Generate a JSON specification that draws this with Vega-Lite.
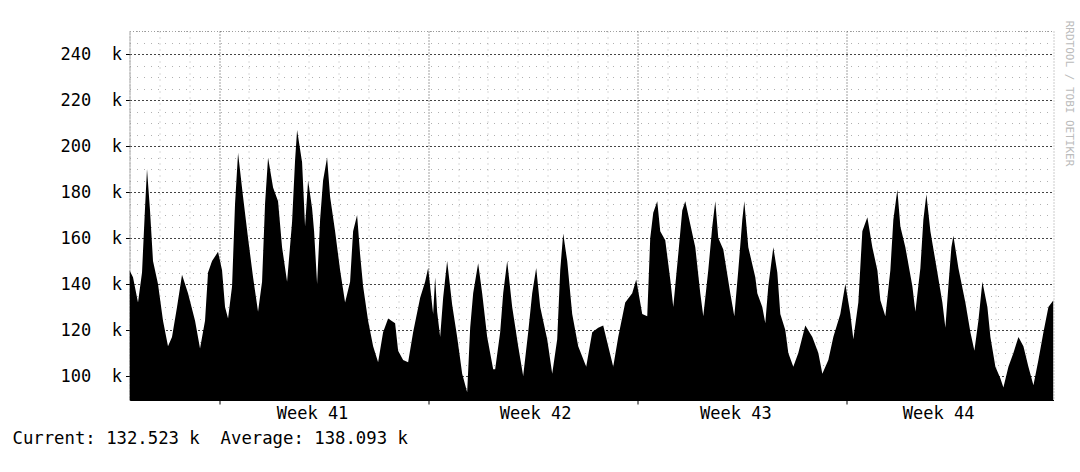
{
  "$schema": "https://vega.github.io/schema/vega-lite/v6.json",
  "width": 924,
  "height": 369,
  "autosize": {"type": "none"},
  "padding": {"left": 129.5, "top": 31, "right": 26.5, "bottom": 72},
  "background": "white",
  "config": {"view": {"stroke": "#999", "strokeDash": [1, 2]}, "font": "DejaVu Sans Mono"},
  "data": {"values": [
    {"day": 0, "v": 146}, {"day": 0.117, "v": 143}, {"day": 0.285, "v": 132}, {"day": 0.419, "v": 145},
    {"day": 0.519, "v": 173}, {"day": 0.586, "v": 190}, {"day": 0.687, "v": 172}, {"day": 0.787, "v": 150},
    {"day": 0.954, "v": 140}, {"day": 1.122, "v": 124}, {"day": 1.289, "v": 113}, {"day": 1.423, "v": 117},
    {"day": 1.591, "v": 130}, {"day": 1.758, "v": 144}, {"day": 1.959, "v": 136}, {"day": 2.194, "v": 124},
    {"day": 2.361, "v": 112}, {"day": 2.528, "v": 124}, {"day": 2.629, "v": 145}, {"day": 2.763, "v": 150},
    {"day": 2.964, "v": 154}, {"day": 3.098, "v": 146}, {"day": 3.198, "v": 130}, {"day": 3.299, "v": 125},
    {"day": 3.433, "v": 139}, {"day": 3.533, "v": 175}, {"day": 3.634, "v": 197}, {"day": 3.801, "v": 178},
    {"day": 3.968, "v": 160}, {"day": 4.136, "v": 143}, {"day": 4.303, "v": 128}, {"day": 4.437, "v": 141},
    {"day": 4.538, "v": 175}, {"day": 4.638, "v": 195}, {"day": 4.806, "v": 182}, {"day": 4.973, "v": 176},
    {"day": 5.107, "v": 156}, {"day": 5.275, "v": 141}, {"day": 5.442, "v": 167}, {"day": 5.543, "v": 194},
    {"day": 5.61, "v": 207}, {"day": 5.777, "v": 193}, {"day": 5.877, "v": 165}, {"day": 5.978, "v": 185},
    {"day": 6.112, "v": 173}, {"day": 6.179, "v": 163}, {"day": 6.28, "v": 140}, {"day": 6.38, "v": 168},
    {"day": 6.48, "v": 185}, {"day": 6.614, "v": 195}, {"day": 6.715, "v": 178}, {"day": 6.882, "v": 163},
    {"day": 7.05, "v": 146}, {"day": 7.217, "v": 132}, {"day": 7.384, "v": 141}, {"day": 7.485, "v": 163},
    {"day": 7.619, "v": 170}, {"day": 7.719, "v": 153}, {"day": 7.82, "v": 139}, {"day": 7.987, "v": 124},
    {"day": 8.155, "v": 113}, {"day": 8.322, "v": 106}, {"day": 8.489, "v": 119}, {"day": 8.657, "v": 125},
    {"day": 8.891, "v": 123}, {"day": 8.992, "v": 111}, {"day": 9.159, "v": 107}, {"day": 9.327, "v": 106},
    {"day": 9.494, "v": 119}, {"day": 9.729, "v": 134}, {"day": 9.896, "v": 141}, {"day": 9.997, "v": 147},
    {"day": 10.164, "v": 127}, {"day": 10.231, "v": 143}, {"day": 10.298, "v": 128}, {"day": 10.399, "v": 117},
    {"day": 10.499, "v": 134}, {"day": 10.633, "v": 150}, {"day": 10.801, "v": 131}, {"day": 10.968, "v": 117},
    {"day": 11.136, "v": 101}, {"day": 11.303, "v": 93}, {"day": 11.404, "v": 121}, {"day": 11.504, "v": 136},
    {"day": 11.671, "v": 149}, {"day": 11.805, "v": 136}, {"day": 11.973, "v": 117}, {"day": 12.174, "v": 103},
    {"day": 12.24, "v": 103}, {"day": 12.408, "v": 119}, {"day": 12.509, "v": 136}, {"day": 12.643, "v": 150},
    {"day": 12.81, "v": 130}, {"day": 13.011, "v": 113}, {"day": 13.178, "v": 100}, {"day": 13.346, "v": 119},
    {"day": 13.48, "v": 136}, {"day": 13.614, "v": 147}, {"day": 13.748, "v": 130}, {"day": 13.982, "v": 116},
    {"day": 14.15, "v": 101}, {"day": 14.317, "v": 116}, {"day": 14.418, "v": 146}, {"day": 14.518, "v": 162},
    {"day": 14.652, "v": 150}, {"day": 14.819, "v": 127}, {"day": 15.02, "v": 113}, {"day": 15.288, "v": 104},
    {"day": 15.489, "v": 119}, {"day": 15.69, "v": 121}, {"day": 15.857, "v": 122}, {"day": 16.025, "v": 113},
    {"day": 16.192, "v": 104}, {"day": 16.36, "v": 117}, {"day": 16.594, "v": 132}, {"day": 16.828, "v": 136},
    {"day": 16.962, "v": 142}, {"day": 17.163, "v": 127}, {"day": 17.331, "v": 126}, {"day": 17.431, "v": 160},
    {"day": 17.532, "v": 171}, {"day": 17.666, "v": 176}, {"day": 17.766, "v": 163}, {"day": 17.934, "v": 159},
    {"day": 18.101, "v": 142}, {"day": 18.202, "v": 130}, {"day": 18.369, "v": 153}, {"day": 18.503, "v": 172},
    {"day": 18.604, "v": 176}, {"day": 18.771, "v": 166}, {"day": 18.939, "v": 156}, {"day": 19.106, "v": 136},
    {"day": 19.207, "v": 126}, {"day": 19.374, "v": 146}, {"day": 19.508, "v": 165}, {"day": 19.609, "v": 176},
    {"day": 19.709, "v": 160}, {"day": 19.877, "v": 155}, {"day": 20.111, "v": 136}, {"day": 20.245, "v": 126},
    {"day": 20.379, "v": 146}, {"day": 20.513, "v": 168}, {"day": 20.58, "v": 176}, {"day": 20.714, "v": 156},
    {"day": 20.948, "v": 143}, {"day": 21.015, "v": 136}, {"day": 21.182, "v": 130}, {"day": 21.283, "v": 123},
    {"day": 21.383, "v": 139}, {"day": 21.551, "v": 156}, {"day": 21.685, "v": 145}, {"day": 21.785, "v": 127},
    {"day": 21.952, "v": 120}, {"day": 22.053, "v": 110}, {"day": 22.22, "v": 104}, {"day": 22.388, "v": 110},
    {"day": 22.622, "v": 122}, {"day": 22.857, "v": 117}, {"day": 23.058, "v": 110}, {"day": 23.192, "v": 101},
    {"day": 23.393, "v": 107}, {"day": 23.56, "v": 117}, {"day": 23.794, "v": 127}, {"day": 23.962, "v": 140},
    {"day": 24.129, "v": 127}, {"day": 24.23, "v": 116}, {"day": 24.397, "v": 132}, {"day": 24.531, "v": 163},
    {"day": 24.699, "v": 169}, {"day": 24.866, "v": 156}, {"day": 25.034, "v": 146}, {"day": 25.134, "v": 133},
    {"day": 25.301, "v": 126}, {"day": 25.469, "v": 146}, {"day": 25.569, "v": 168}, {"day": 25.703, "v": 181},
    {"day": 25.804, "v": 165}, {"day": 25.971, "v": 156}, {"day": 26.206, "v": 139}, {"day": 26.306, "v": 128},
    {"day": 26.474, "v": 147}, {"day": 26.574, "v": 168}, {"day": 26.675, "v": 179}, {"day": 26.809, "v": 163},
    {"day": 27.043, "v": 145}, {"day": 27.21, "v": 132}, {"day": 27.311, "v": 121}, {"day": 27.411, "v": 139},
    {"day": 27.512, "v": 156}, {"day": 27.579, "v": 161}, {"day": 27.746, "v": 147}, {"day": 27.98, "v": 132},
    {"day": 28.148, "v": 119}, {"day": 28.282, "v": 111}, {"day": 28.416, "v": 124}, {"day": 28.55, "v": 141},
    {"day": 28.717, "v": 130}, {"day": 28.818, "v": 117}, {"day": 28.985, "v": 104}, {"day": 29.153, "v": 99},
    {"day": 29.253, "v": 95}, {"day": 29.421, "v": 104}, {"day": 29.588, "v": 110}, {"day": 29.756, "v": 117},
    {"day": 29.923, "v": 113}, {"day": 30.09, "v": 104}, {"day": 30.258, "v": 96}, {"day": 30.425, "v": 107},
    {"day": 30.593, "v": 119}, {"day": 30.76, "v": 130}, {"day": 30.928, "v": 133}
  ]},
  "mark": {"type": "area", "color": "#000", "interpolate": "linear", "clip": true},
  "encoding": {
    "x": {
      "field": "day", "type": "quantitative",
      "scale": {"domain": [0, 30.93], "nice": false, "zero": false},
      "axis": {
        "values": [0, 1, 2, 3, 4, 5, 6, 7, 8, 9, 10, 11, 12, 13, 14, 15, 16, 17, 18, 19, 20, 21, 22, 23, 24, 25, 26, 27, 28, 29, 30, 6.11, 13.58, 20.28, 27.07],
        "labelExpr": "datum.value % 1 !== 0 ? 'Week ' + (datum.value < 10 ? 41 : datum.value < 17 ? 42 : datum.value < 24 ? 43 : 44) : ''",
        "labelFont": "DejaVu Sans Mono", "labelFontSize": 17, "labelColor": "#000",
        "labelBaseline": "alphabetic", "labelPadding": 14, "labelFlush": false, "labelOverlap": false, "labelBound": false,
        "tickSize": 4, "tickWidth": 1,
        "tickColor": {"condition": {"test": "indexof([3,10,17,24], datum.value) >= 0", "value": "#000"}, "value": "transparent"},
        "grid": true,
        "gridColor": {"condition": [{"test": "indexof([3,10,17,24], datum.value) >= 0", "value": "#444"}, {"test": "datum.value % 1 !== 0", "value": "transparent"}], "value": "#b0b0b0"},
        "gridDash": {"condition": {"test": "indexof([3,10,17,24], datum.value) >= 0", "value": [1, 2]}, "value": [1, 5]},
        "domain": true, "domainColor": "#000", "domainWidth": 1,
        "title": "Current: 132.523 k\u00a0\u00a0Average: 138.093 k",
        "titleFont": "DejaVu Sans Mono", "titleFontSize": 17.3, "titleFontWeight": "normal", "titleColor": "#000",
        "titleX": -117.5, "titleY": 43, "titleAlign": "left", "titleBaseline": "alphabetic", "titleAngle": 0
      }
    },
    "y": {
      "field": "v", "type": "quantitative",
      "scale": {"domain": [89.6, 250], "nice": false, "zero": false},
      "axis": {
        "values": [90, 95, 100, 105, 110, 115, 120, 125, 130, 135, 140, 145, 150, 155, 160, 165, 170, 175, 180, 185, 190, 195, 200, 205, 210, 215, 220, 225, 230, 235, 240, 245, 250],
        "labelExpr": "datum.value % 20 === 0 ? datum.value + '\u00a0\u00a0k' : ''",
        "labelFont": "DejaVu Sans Mono", "labelFontSize": 17, "labelColor": "#000",
        "labelPadding": 4, "labelOverlap": false, "labelBound": false, "labelFlush": false,
        "tickSize": 4,
        "tickColor": {"condition": {"test": "datum.value % 20 === 0", "value": "#000"}, "value": "transparent"},
        "grid": true,
        "gridColor": {"condition": {"test": "datum.value % 20 === 0", "value": "#444"}, "value": "#b0b0b0"},
        "gridDash": {"condition": {"test": "datum.value % 20 === 0", "value": [2, 2]}, "value": [1, 6]},
        "domain": true, "domainColor": "#888", "domainDash": [1, 1],
        "title": "RRDTOOL / TOBI OETIKER",
        "titleFont": "DejaVu Sans Mono", "titleFontSize": 11, "titleFontWeight": "normal", "titleColor": "#bbbbbb",
        "titleX": 938.5, "titleY": 62, "titleAngle": 90, "titleAlign": "center", "titleBaseline": "middle"
      }
    },
    "y2": {"datum": 89.6}
  }
}
